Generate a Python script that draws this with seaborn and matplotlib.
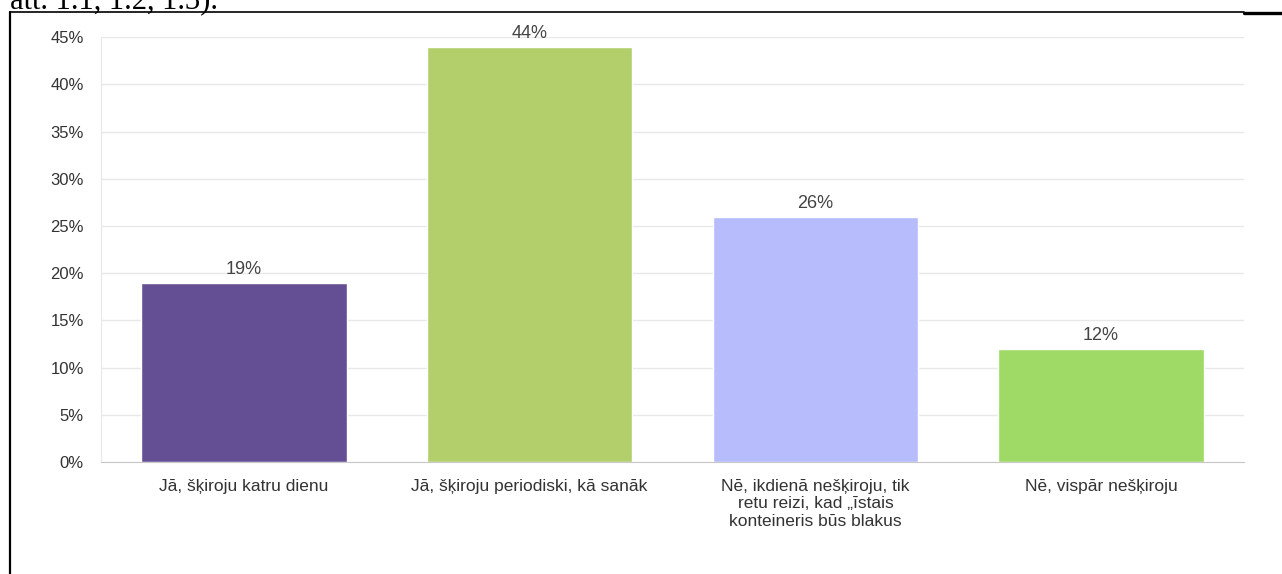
import matplotlib
matplotlib.use("Agg")

import matplotlib.pyplot as plt
import pandas as pd
import seaborn as sns
from matplotlib.lines import Line2D
from matplotlib.ticker import FuncFormatter, MultipleLocator

# Data
categories = [
    "Jā, šķiroju katru dienu",
    "Jā, šķiroju periodiski, kā sanāk",
    "Nē, ikdienā nešķiroju, tik\nretu reizi, kad „īstais\nkonteineris būs blakus",
    "Nē, vispār nešķiroju",
]
shares = [19, 44, 26, 12]
bar_colors = ["#654f94", "#b2cf6c", "#b6bcfc", "#9fd966"]

df = pd.DataFrame({"answer": categories, "share": shares})

sns.set_style("white")
plt.rcParams["font.family"] = ["Liberation Sans", "DejaVu Sans"]

fig = plt.figure(figsize=(12.82, 5.74), dpi=100)
ax = fig.add_axes([101 / 1282, 1 - 462 / 574, (1244 - 101) / 1282, (462 - 37.3) / 574])

sns.barplot(data=df, x="answer", y="share", hue="answer", palette=bar_colors,
            width=0.72, legend=False, ax=ax, saturation=1)

# value labels above bars
for p, v in zip(ax.patches, shares):
    ax.annotate(f"{v}%", (p.get_x() + p.get_width() / 2, p.get_height()),
                xytext=(0, 3.5), textcoords="offset points", ha="center", va="bottom",
                fontsize=13, color="#444444", annotation_clip=False)

ax.set_ylim(0, 45)
ax.yaxis.set_major_locator(MultipleLocator(5))
ax.yaxis.set_major_formatter(FuncFormatter(lambda v, _: f"{v:.0f}%"))
ax.grid(axis="y", color="#e8e8e8", linewidth=1)
ax.set_axisbelow(True)
ax.set_xlabel("")
ax.set_ylabel("")

for side in ["top", "right"]:
    ax.spines[side].set_visible(False)
ax.spines["left"].set_color("#e8e8e8")
ax.spines["bottom"].set_color("#c8c8c8")

ax.tick_params(axis="y", length=11.5, width=1, color="#e8e8e8", pad=1,
               labelsize=12, labelcolor="#333333")
ax.tick_params(axis="x", length=0, pad=12, labelsize=12.5, labelcolor="#333333")
for lbl in ax.get_xticklabels():
    lbl.set_linespacing(1.22)
    lbl.set_va("top")

# page frame and cut-off caption from the document
fig.add_artist(Line2D([10 / 1282, 10 / 1282], [0, 1 - 12 / 574], color="black", lw=1.6))
fig.add_artist(Line2D([10 / 1282, 1244 / 1282], [1 - 12 / 574, 1 - 12 / 574], color="black", lw=1.2))
fig.add_artist(Line2D([1244 / 1282, 1], [1 - 13 / 574, 1 - 13 / 574], color="black", lw=2.4))
fig.text(10 / 1282, 1 - 8 / 574, "att. 1.1, 1.2, 1.3).", family="Liberation Serif",
         fontsize=22, color="black", va="baseline", ha="left")

fig.savefig("out.png", dpi=100)
plt.close()
